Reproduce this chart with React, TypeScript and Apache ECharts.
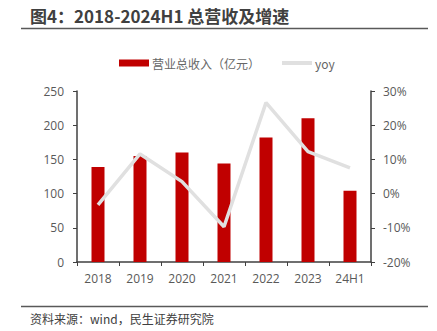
import React, { useEffect, useRef } from "react";
import * as echarts from "echarts";

const categories = ["2018", "2019", "2020", "2021", "2022", "2023", "24H1"];
const revenue = [139, 155, 160, 144, 182, 210, 104];
const yoy = [-3.3, 11.6, 3.5, -9.7, 26.6, 12.3, 7.5];
const title = "图4：2018-2024H1 总营收及增速";
const source = "资料来源：wind，民生证券研究院";

const FONT = "'Open Sans', 'Noto Sans CJK SC', sans-serif";
const CJK = "'Noto Sans CJK SC', sans-serif";

export default function App() {
  const ref = useRef<HTMLDivElement>(null);
  useEffect(() => {
    if (!ref.current) return;
    const chart = echarts.init(ref.current, null, { renderer: "svg" });
    chart.setOption({
      animation: false,
      backgroundColor: "#ffffff",
      graphic: [
        {
          type: "text",
          left: 30,
          top: 7,
          style: { text: title, font: `bold 17px ${CJK}`, fill: "#404040" },
        },
        {
          type: "line",
          shape: { x1: 21, y1: 28.5, x2: 428, y2: 28.5 },
          style: { stroke: "#595959", lineWidth: 1.5 },
        },
        {
          type: "line",
          shape: { x1: 21, y1: 306.5, x2: 428, y2: 306.5 },
          style: { stroke: "#595959", lineWidth: 1.5 },
        },
        {
          type: "text",
          left: 30,
          top: 312,
          style: { text: source, font: `12px ${CJK}`, fill: "#404040" },
        },
      ],
      legend: {
        left: 114,
        top: 52,
        itemGap: 22,
        itemWidth: 30,
        itemHeight: 7,
        textStyle: { fontFamily: CJK, fontSize: 12, color: "#666666", padding: [0, 0, 0, -2] },
        data: [
          { name: "营业总收入（亿元）", icon: "rect" },
          { name: "yoy", icon: "path://M0,0h30v4h-30z", itemStyle: { color: "#E0E0E0" } },
        ],
      },
      grid: { left: 77, right: 66, top: 91, bottom: 69 },
      xAxis: {
        type: "category",
        data: categories,
        axisLine: { lineStyle: { color: "#404040", width: 1.5 } },
        axisTick: { show: true, length: 4, lineStyle: { color: "#404040" } },
        axisLabel: { color: "#595959", fontFamily: FONT, fontSize: 12, margin: 10 },
      },
      yAxis: [
        {
          type: "value",
          min: 0,
          max: 250,
          interval: 50,
          splitLine: { show: false },
          axisLine: { show: true, lineStyle: { color: "#404040", width: 1.5 } },
          axisTick: { show: true, length: 4, lineStyle: { color: "#404040" } },
          axisLabel: { color: "#595959", fontFamily: FONT, fontSize: 12, margin: 13 },
        },
        {
          type: "value",
          min: -20,
          max: 30,
          interval: 10,
          position: "right",
          splitLine: { show: false },
          axisLine: { show: true, lineStyle: { color: "#404040", width: 1.5 } },
          axisTick: { show: true, length: 4, lineStyle: { color: "#404040" } },
          axisLabel: {
            color: "#595959",
            fontFamily: FONT,
            fontSize: 12,
            margin: 12,
            formatter: (v: number) => `${v}%`,
          },
        },
      ],
      series: [
        {
          name: "营业总收入（亿元）",
          type: "bar",
          data: revenue,
          barWidth: 13,
          itemStyle: { color: "#C00000" },
        },
        {
          name: "yoy",
          type: "line",
          yAxisIndex: 1,
          data: yoy,
          symbol: "none",
          lineStyle: { color: "#E0E0E0", width: 3.5 },
          itemStyle: { color: "#E0E0E0" },
        },
      ],
    });
    return () => chart.dispose();
  }, []);
  return (
    <div
      ref={ref}
      style={{ position: "absolute", left: 0, top: 0, width: 437, height: 331 }}
    />
  );
}
